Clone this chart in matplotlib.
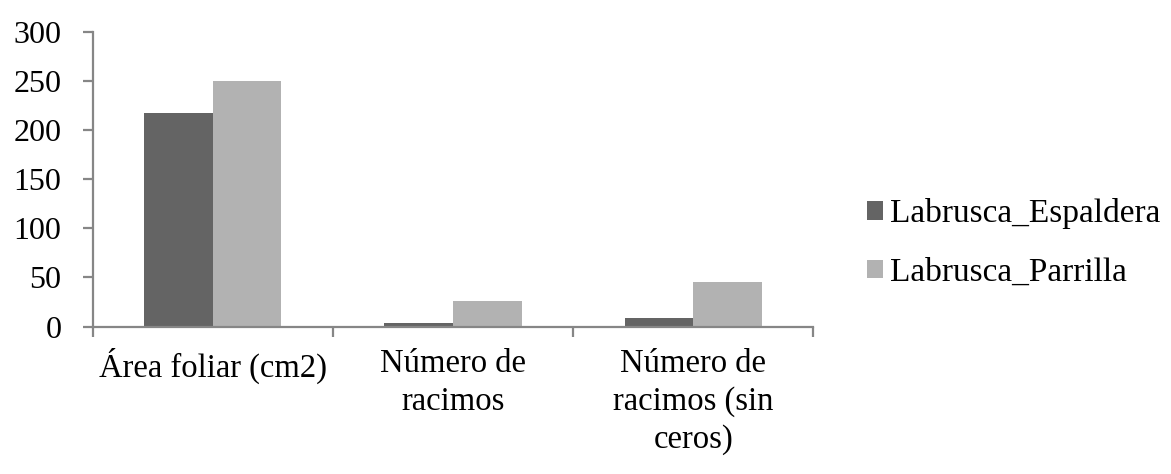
import numpy as np
import matplotlib.pyplot as plt

# values
categories = ["Área foliar (cm2)", "Número de\nracimos", "Número de\nracimos (sin\nceros)"]
espaldera = [217.5, 3.6, 8.4]
parrilla = [250.2, 26.1, 45.5]
series_names = ["Labrusca_Espaldera", "Labrusca_Parrilla"]

plt.rcParams["font.family"] = ["Liberation Serif", "DejaVu Serif"]

W, H = 1171, 474
fig = plt.figure(figsize=(W / 100, H / 100), dpi=100)
ax = fig.add_axes([92.7 / W, 1 - 326.5 / H, (813.3 - 92.7) / W, (326.5 - 32.3) / H])

x = np.arange(len(categories))
w = 0.286
ax.bar(x - w / 2, espaldera, w, color="#646464", label=series_names[0])
ax.bar(x + w / 2, parrilla, w, color="#b2b2b2", label=series_names[1])

ax.set_xlim(-0.5, len(categories) - 0.5)
ax.set_ylim(0, 300)
ax.set_yticks(np.arange(0, 301, 50))

axis_col = "#868686"
for s in ["top", "right"]:
    ax.spines[s].set_visible(False)
for s in ["left", "bottom"]:
    ax.spines[s].set_color(axis_col)
    ax.spines[s].set_linewidth(1.6)

ax.set_xticks(x)
ax.set_xticklabels(categories, fontsize=23.5, linespacing=1.32, va="top")
ax.tick_params(axis="x", which="major", length=0, pad=15.5)
ax.set_xticks(np.arange(-0.5, len(categories)), minor=True)
ax.tick_params(axis="x", which="minor", length=7.5, width=1.6, color=axis_col)
ax.tick_params(axis="y", length=7.5, width=1.6, color=axis_col, labelsize=23, pad=15)

fig.legend(loc="center left", bbox_to_anchor=(850 / W, 1 - 243 / H), frameon=False,
           fontsize=24, handlelength=0.48, handleheight=0.48, handletextpad=0.22,
           labelspacing=0.85, borderpad=0)

fig.savefig("out.png", dpi=100)
